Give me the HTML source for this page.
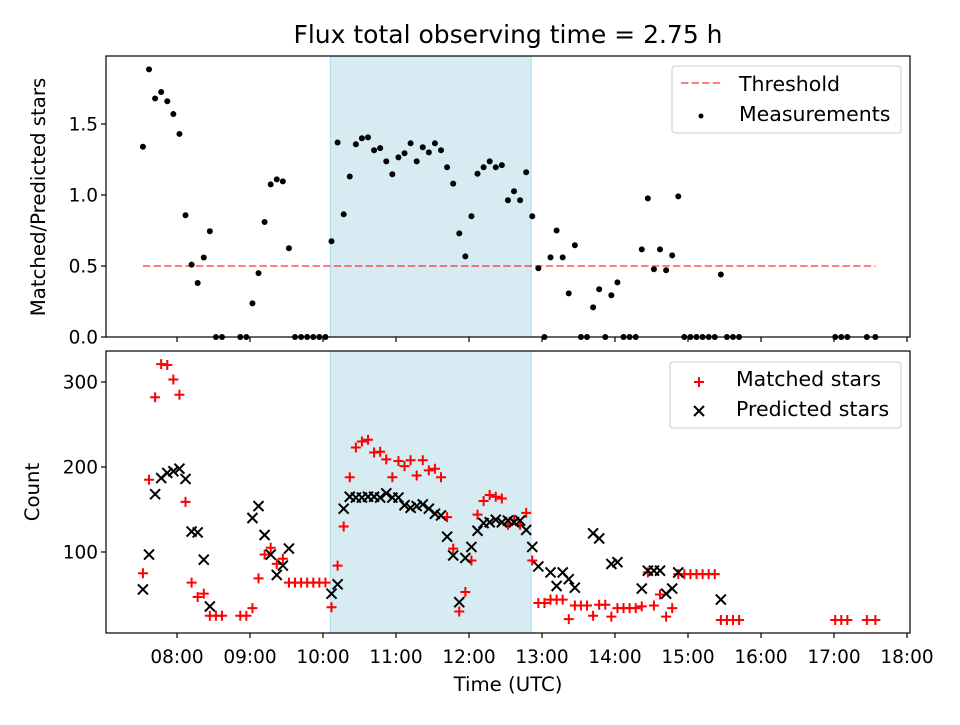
<!DOCTYPE html>
<html><head><meta charset="utf-8"><style>
body{margin:0;background:#fff}
svg{font-family:"DejaVu Sans","Liberation Sans",sans-serif}
</style></head><body>
<svg id="chart" width="960" height="720" viewBox="0 0 960 720" xmlns="http://www.w3.org/2000/svg">
<rect width="960" height="720" fill="#fff"/>
<text x="508" y="43" font-size="25" text-anchor="middle">Flux total observing time = 2.75 h</text>
<g id="topAxes"></g><g id="botAxes"></g>
<text x="508" y="691" font-size="19.7" text-anchor="middle">Time (UTC)</text>
<text transform="translate(45,197) rotate(-90)" font-size="19.7" text-anchor="middle">Matched/Predicted stars</text>
<text transform="translate(39,492) rotate(-90)" font-size="19.7" text-anchor="middle">Count</text>
</svg>
<script>
const times=[452,457,462,467,472,477,482,487,492,497,502,507,512,517,
532,537,542,547,552,557,562,567,572,577,582,587,592,597,602,
607,612,617,622,627,632,637,642,647,652,657,662,667,672,677,682,687,692,697,702,
707,712,717,722,727,732,737,742,747,752,757,762,767,772,777,782,787,792,797,802,
807,812,817,822,827,832,837,842,847,852,857,862,867,872,877,882,887,892,897,902,
907,912,917,922,927,932,937,942,1021,1026,1031,1047,1054];
const ratio=[1.34,1.885,1.68,1.725,1.66,1.57,1.43,0.857,0.51,0.38,0.56,0.745,0,0,
0,0,0.237,0.45,0.81,1.075,1.11,1.096,0.625,0,0,0,0,0,0,
0.674,1.37,0.864,1.13,1.357,1.40,1.406,1.315,1.33,1.237,1.146,1.265,1.294,1.364,1.237,1.336,1.30,1.364,1.315,1.195,
1.08,0.73,0.568,0.85,1.15,1.195,1.237,1.195,1.21,0.963,1.026,0.963,1.16,0.85,0.484,0,0.561,0.75,0.561,0.307,
0.646,0,0,0.209,0.336,0,0.294,0.385,0,0,0,0.617,0.976,0.477,0.617,0.47,0.575,0.99,0,0,
0,0,0,0,0.44,0,0,0,0,0,0,0,0];
const matched=[75,185,282,321,320,303,285,159,64,47,51,25,25,25,
25,25,34,69,97,105,86,92,64,64,64,64,64,64,64,
35,84,130,188,223,230,232,217,218,209,188,207,201,208,190,208,196,198,188,141,
104,30,53,90,144,160,167,165,163,132,138,132,146,90,40,40,44,44,44,21,
37,37,37,25,38,38,24,34,34,34,34,36,76,37,50,24,34,74,74,74,
74,74,74,74,20,20,20,20,20,20,20,20,20];
const predicted=[56,97,168,187,193,195,198,186,124,123,91,36,null,null,
null,null,140,154,120,97,73,84,104,null,null,null,null,null,null,
51,62,151,165,164,164,165,165,164,169,164,164,155,152,154,156,151,145,143,118,
96,41,93,106,125,134,135,138,135,137,135,137,126,106,83,null,76,60,76,68,
58,null,null,122,116,null,86,88,null,null,null,57,78,78,78,51,57,76,null,null,
null,null,null,null,44,null,null,null,null,null,null,null,null];
const xTicks=[480,540,600,660,720,780,840,900,960,1020,1080];
const xTickLabels=["08:00","09:00","10:00","11:00","12:00","13:00","14:00","15:00","16:00","17:00","18:00"];
const topYTicks=[0,0.5,1.0,1.5];
const topYLabels=["0.0","0.5","1.0","1.5"];
const botYTicks=[100,200,300];
const spanStart=606, spanEnd=771, threshold=0.5;

const NS="http://www.w3.org/2000/svg";
const L=106,R=910;
const X=m=>177+(m-480)*73/60;
const Yt=v=>337-v*142;
const Yb=v=>637-v*0.85;
function mk(p,tag,at){const e=document.createElementNS(NS,tag);for(const k in at)e.setAttribute(k,at[k]);p.appendChild(e);return e;}
const gTop=document.getElementById('topAxes'),gBot=document.getElementById('botAxes');

function axes(g,t0,t1,yT,yL,Y,nm,labelsX){
  const s=mk(g,'rect',{x:X(spanStart),y:t0,width:X(spanEnd)-X(spanStart),height:t1-t0,fill:'#add8e6','fill-opacity':0.5,stroke:'#add8e6','stroke-width':1});
  
  
  xTicks.forEach((m,i)=>{
    const tk=mk(g,'line',{x1:X(m),x2:X(m),y1:t1,y2:t1+5,stroke:'#000','stroke-width':1.2});
    
    
    if(labelsX){const tx=mk(g,'text',{x:X(m),y:t1+30,'font-size':18.5,'text-anchor':'middle'});tx.textContent=xTickLabels[i];
      
      }
  });
  yT.forEach((v,i)=>{
    const tk=mk(g,'line',{x1:L-5,x2:L,y1:Y(v),y2:Y(v),stroke:'#000','stroke-width':1.2});
    
    
    const tx=mk(g,'text',{x:L-8,y:Y(v)+6.5,'font-size':18.5,'text-anchor':'end'});tx.textContent=yL[i];
    
    
  });
}
axes(gTop,56,337,topYTicks,topYLabels,Yt,'top',false);
axes(gBot,351,633,botYTicks,botYTicks.map(String),Yb,'bottom',true);

const th=mk(gTop,'line',{x1:X(times[0]),x2:X(times[times.length-1]),y1:Yt(threshold),y2:Yt(threshold),stroke:'#ff0000','stroke-opacity':0.5,'stroke-width':2,'stroke-dasharray':'7.4,3.2'});


times.forEach((m,i)=>{
  const c=mk(gTop,'circle',{cx:X(m),cy:Yt(ratio[i]),r:3,fill:'#000'});
  
  
});
function plus(g,x,y){return mk(g,'path',{d:`M${x-5},${y}H${x+5}M${x},${y-5}V${y+5}`,stroke:'#ff0000','stroke-width':2,fill:'none'});}
function cross(g,x,y){return mk(g,'path',{d:`M${x-5},${y-5}L${x+5},${y+5}M${x-5},${y+5}L${x+5},${y-5}`,stroke:'#000','stroke-width':2,fill:'none'});}
times.forEach((m,i)=>{
  const p=plus(gBot,X(m),Yb(matched[i]));
  
  
});
times.forEach((m,i)=>{
  if(predicted[i]===null)return;
  const p=cross(gBot,X(m),Yb(predicted[i]));
  
  
});
[[56,337],[351,633]].forEach(([a,b],k)=>{
  const f=mk(k?gBot:gTop,'rect',{x:L,y:a,width:R-L,height:b-a,fill:'none',stroke:'#000','stroke-width':1.2});
  
  
});
function legend(g,x,y,w,h,nm){const r=mk(g,'rect',{x:x,y:y,width:w,height:h,rx:3,fill:'#fff','fill-opacity':0.8,stroke:'#ccc'});
  
  }
legend(gTop,672,66,229,67,'top-legend');
const ll=mk(gTop,'line',{x1:681,x2:721,y1:83,y2:83,stroke:'#ff0000','stroke-opacity':0.5,'stroke-width':2,'stroke-dasharray':'7.4,3.2'});


const lt1=mk(gTop,'text',{x:739,y:91,'font-size':20.5});lt1.textContent='Threshold';


const ld=mk(gTop,'circle',{cx:701,cy:116,r:2.5,fill:'#000'});


const lt2=mk(gTop,'text',{x:739,y:121,'font-size':20.5});lt2.textContent='Measurements';


legend(gBot,670,362,231,66,'bottom-legend');
const lp=plus(gBot,699,382);


const lt3=mk(gBot,'text',{x:736,y:386,'font-size':20.5});lt3.textContent='Matched stars';


const lx=cross(gBot,699,411);


const lt4=mk(gBot,'text',{x:736,y:416,'font-size':20.5});lt4.textContent='Predicted stars';


</script>
</body></html>
